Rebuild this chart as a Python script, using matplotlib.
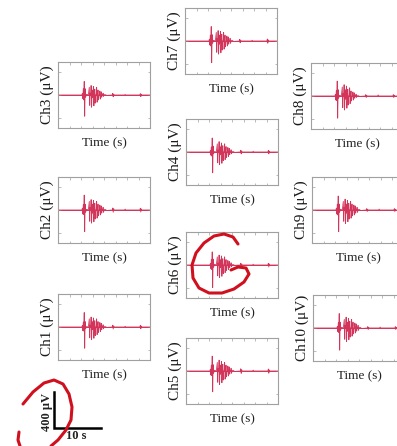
import matplotlib
matplotlib.use("Agg")
import matplotlib.pyplot as plt
from matplotlib.lines import Line2D

# ---- data -------------------------------------------------------------
t = [0.0, 5.2, 5.3, 5.4, 5.5, 5.6, 5.7, 5.8, 5.9, 6.0, 6.2, 6.6,
     6.8, 6.9, 7.0, 7.1, 7.2, 7.3, 7.4, 7.5, 7.6, 7.7, 7.8, 7.9, 8.0,
     8.1, 8.2, 8.3, 8.4, 8.5, 8.6, 8.7, 8.8, 8.9, 9.0, 9.1, 9.2, 9.3,
     9.4, 9.5, 9.6, 9.7, 9.8, 9.9, 10.0,
     10.2, 10.6, 11.8, 11.9, 12.0, 12.1, 12.2, 14.5, 14.6, 14.7,
     17.8, 17.9, 18.0, 18.1, 18.2, 20.0]

ch1 = [0, 0, 15, -40, 55, -45, 160, -235, 60, -20, 5, 0,
       90, -120, 20, 0, 110, -140, 60, -30, 0, 100, -125, 0, 70,
       -95, 0, 0, 90, -85, 0, 60, -60, 0, 0, 50, -50, 0, 40,
       -30, 0, 0, 25, -20, 0,
       6, -4, 0, 20, -22, 12, 0, 0, 8, 0, 0, 18, -20, 10, 0, 0]
ch2 = [0, 0, 20, -45, 60, -50, 165, -240, 65, -25, 8, 0,
       95, -125, 25, 0, 115, -145, 65, -35, 0, 105, -130, 0, 75,
       -100, 0, 0, 95, -90, 0, 65, -65, 0, 0, 55, -55, 0, 45,
       -35, 0, 0, 30, -25, 0,
       8, -5, 0, 22, -25, 14, 0, 0, 10, 0, 0, 20, -22, 12, 0, 0]
ch3 = [0, 0, 18, -40, 70, -55, 150, -235, 70, -25, 8, 0,
       85, -115, 20, 0, 105, -135, 55, -30, 0, 95, -120, 0, 65,
       -90, 0, 0, 85, -80, 0, 55, -55, 0, 0, 45, -45, 0, 35,
       -25, 0, 0, 20, -15, 0,
       5, -4, 0, 18, -20, 10, 0, 0, 6, 0, 0, 15, -18, 8, 0, 0]
ch4 = [0, 0, 15, -35, 55, -45, 155, -230, 65, -20, 5, 0,
       90, -120, 20, 0, 115, -140, 60, -30, 0, 100, -125, 0, 70,
       -95, 0, 0, 90, -85, 0, 60, -60, 0, 0, 50, -50, 0, 40,
       -30, 0, 0, 25, -20, 0,
       6, -4, 0, 20, -20, 12, 0, 0, 8, 0, 0, 18, -20, 10, 0, 0]
ch5 = [0, 0, 20, -45, 65, -50, 165, -230, 70, -25, 8, 0,
       95, -125, 25, 0, 120, -150, 65, -35, 0, 105, -130, 0, 75,
       -100, 0, 0, 95, -90, 0, 65, -65, 0, 0, 55, -55, 0, 45,
       -35, 0, 0, 30, -25, 0,
       8, -5, 0, 24, -26, 14, 0, 0, 10, 0, 0, 22, -24, 12, 0, 0]
ch6 = [0, 0, 15, -40, 60, -50, 145, -250, 65, -25, 8, 0,
       90, -120, 20, 0, 110, -140, 60, -30, 0, 100, -125, 0, 70,
       -95, 0, 0, 90, -85, 0, 60, -60, 0, 0, 50, -50, 0, 40,
       -30, 0, 0, 25, -20, 0,
       6, -4, 0, 20, -22, 12, 0, 0, 8, 0, 0, 20, -22, 12, 0, 0]
ch7 = [0, 0, 20, -45, 65, -55, 160, -240, 70, -25, 8, 0,
       95, -125, 25, 0, 115, -145, 65, -35, 0, 105, -130, 0, 75,
       -100, 0, 0, 95, -90, 0, 65, -65, 0, 0, 55, -55, 0, 45,
       -35, 0, 0, 30, -25, 0,
       8, -5, 0, 18, -20, 10, 0, 0, 8, 0, 0, 22, -24, 12, 0, 0]
ch8 = [0, 0, 18, -45, 60, -50, 165, -245, 70, -25, 8, 0,
       100, -130, 25, 0, 125, -155, 70, -35, 0, 110, -135, 0, 75,
       -100, 0, 0, 90, -85, 0, 55, -55, 0, 0, 45, -45, 0, 35,
       -25, 0, 0, 20, -15, 0,
       5, -4, 0, 15, -15, 8, 0, 0, 12, 0, 0, 15, -15, 8, 0, 0]
ch9 = [0, 0, 20, -45, 65, -55, 155, -240, 65, -25, 8, 0,
       95, -125, 25, 0, 120, -150, 65, -35, 0, 105, -130, 0, 75,
       -100, 0, 0, 95, -90, 0, 65, -65, 0, 0, 55, -55, 0, 45,
       -35, 0, 0, 30, -25, 0,
       8, -5, 0, 15, -15, 8, 0, 0, 10, 0, 0, 15, -15, 8, 0, 0]
ch10 = [0, 0, 18, -40, 60, -50, 160, -245, 65, -25, 8, 0,
        95, -125, 25, 0, 120, -150, 65, -35, 0, 105, -130, 0, 75,
        -100, 0, 0, 95, -90, 0, 65, -65, 0, 0, 55, -55, 0, 45,
        -35, 0, 0, 30, -25, 0,
        8, -5, 0, 15, -15, 8, 0, 0, 10, 0, 0, 15, -15, 8, 0, 0]

channel_names = ["Ch1", "Ch2", "Ch3", "Ch4", "Ch5",
                 "Ch6", "Ch7", "Ch8", "Ch9", "Ch10"]
channel_data = [ch1, ch2, ch3, ch4, ch5, ch6, ch7, ch8, ch9, ch10]

x_label = "Time (s)"
y_unit = "(\u03bcV)"
scale_v_label = "400 \u03bcV"
scale_h_label = "10 s"
scale_v = 400.0
scale_h = 10.0

# ---- layout (pixel boxes: left, top, width, height) -------------------
W, H = 397, 446
layout = {
    "Ch3": (58, 62, 92, 66),
    "Ch2": (58, 177, 92, 66),
    "Ch1": (58, 294, 92, 66),
    "Ch7": (185, 8, 92, 66),
    "Ch4": (186, 119, 92, 66),
    "Ch6": (186, 232, 92, 66),
    "Ch5": (186, 338, 92, 66),
    "Ch8": (311, 63, 92, 66),
    "Ch9": (312, 177, 92, 66),
    "Ch10": (313, 295, 92, 66),
}

LINE_COLOR = "#d2345a"
FRAME_COLOR = "#a0a0a0"
XLIM = (0, 20)
YLIM = (-365, 365)

plt.rcParams["font.family"] = ["Liberation Serif", "DejaVu Serif"]

fig = plt.figure(figsize=(W / 100, H / 100), dpi=100)
fig.patch.set_facecolor("white")


def px_rect(l, tp, w, h):
    return [l / W, 1 - (tp + h) / H, w / W, h / H]


for name, data in zip(channel_names, channel_data):
    ax = fig.add_axes(px_rect(*layout[name]))
    ax.plot(t, data, color=LINE_COLOR, lw=0.6)
    ax.axhline(0, color=LINE_COLOR, lw=0.7, zorder=0)
    ax.set_xlim(*XLIM)
    ax.set_ylim(*YLIM)
    ax.set_xticks([2.5 * i for i in range(1, 8)])
    ax.set_yticks([-250, 0, 250])
    ax.tick_params(direction="in", length=1.8, width=0.5, colors=FRAME_COLOR,
                   top=True, right=True, labelleft=False, labelbottom=False)
    for sp in ax.spines.values():
        sp.set_color(FRAME_COLOR)
        sp.set_linewidth(0.8)
    ax.set_xlabel(x_label, fontsize=9.5, color="#222222", labelpad=7)
    ax.set_ylabel(f"{name} {y_unit}", fontsize=11, color="#1a1a1a",
                  labelpad=3)

# ---- scale bar -------------------------------------------------------
sb = fig.add_axes(px_rect(54, 374, 60, 56))
sb.set_xlim(0, 12.8)
sb.set_ylim(-20, 622)
sb.axis("off")
sb.plot([0, 0, scale_h], [scale_v + 20, 0, 0], color="black", lw=1.8,
        solid_joinstyle="miter", clip_on=False)
sb.text(-1.6, 190, scale_v_label, rotation=90, ha="center", va="center",
        fontsize=9, fontweight="bold", color="#222222")
sb.text(2.5, -25, scale_h_label, ha="left", va="top",
        fontsize=9, fontweight="bold", color="#222222")

# ---- hand-drawn red annotations (figure pixel coords) ----------------
ov = fig.add_axes([0, 0, 1, 1])
ov.set_xlim(0, W)
ov.set_ylim(H, 0)
ov.axis("off")
ov.patch.set_alpha(0)
stroke_g = [(238, 244), (233, 237), (224, 234), (214, 236), (204, 243),
            (196, 253), (192, 265), (193, 278), (199, 288), (209, 293),
            (222, 293), (234, 289), (244, 282), (249, 274), (246, 268),
            (238, 267), (231, 270)]
stroke_paren = [(23, 404), (33, 392), (44, 383), (54, 380), (63, 384),
                (69, 394), (72, 407), (71, 420), (66, 430), (58, 440),
                (51, 446)]
stroke_low = [(19, 432), (18, 440), (20, 446)]
for s in (stroke_g, stroke_paren, stroke_low):
    ov.add_line(Line2D([p[0] for p in s], [p[1] for p in s],
                       color="#d0101e", lw=2.2, solid_capstyle="round",
                       solid_joinstyle="round"))

fig.savefig("out.png", dpi=100, facecolor="white")
